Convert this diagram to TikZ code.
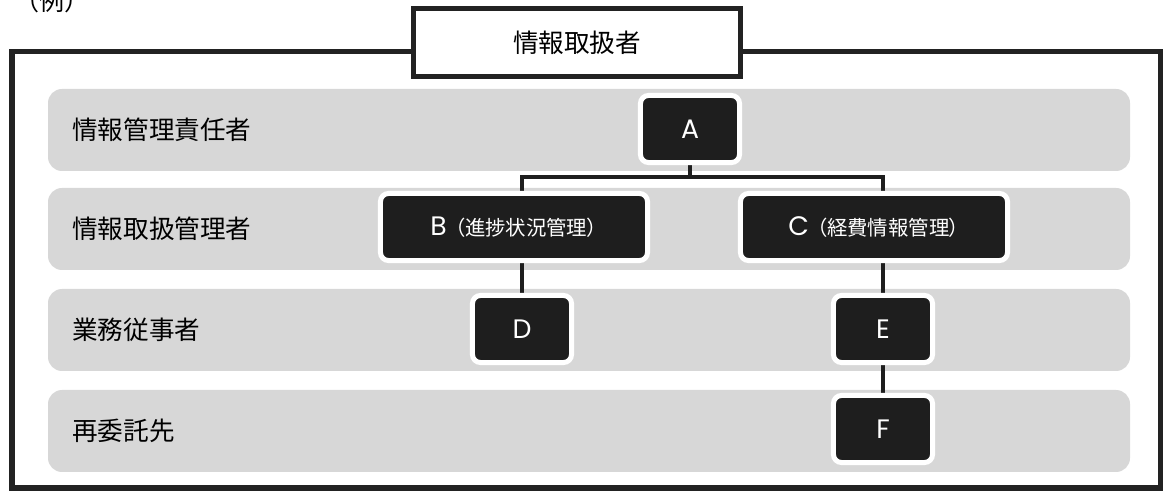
\documentclass[tikz,border=0pt]{standalone}
\usepackage{fontspec}
\setmainfont{Noto Sans CJK JP}
\newfontfamily\latinfont{Poppins}
\newfontfamily\tightjp[RawFeature=+palt]{Noto Sans CJK JP}
\definecolor{bandgray}{HTML}{D7D7D7}
\definecolor{boxblack}{HTML}{1E1E1E}
\definecolor{framegray}{HTML}{222222}
\pgfdeclarelayer{bands}
\pgfdeclarelayer{links}
\pgfsetlayers{bands,links,main}
\tikzset{
  band/.style={fill=bandgray, rounded corners=0.35cm},
  rolelabel/.style={anchor=west, inner sep=0pt, font=\fontsize{18.2}{20}\selectfont},
  person/.style={fill=boxblack, draw=white, line width=0.125cm, rounded corners=0.2cm,
    text=white, inner sep=0pt, minimum width=2.475cm, minimum height=1.675cm,
    font=\latinfont\fontsize{19}{22}\selectfont},
  link/.style={draw=boxblack, line width=0.11cm},
}
\newcommand{\dutyof}[1]{\hspace{0.3em}{\tightjp\fontsize{14.5}{16}\selectfont （#1）}}
\begin{document}
\begin{tikzpicture}[x=0.025cm, y=-0.025cm]
\useasboundingbox (0,0) rectangle (1166,491);
\node[font=\fontsize{17.8}{20}\selectfont] (example) at (52,1) {（例）};
% frame and title
\draw[framegray, line width=0.125cm] (12,52) rectangle (1160,488);
\node[draw=framegray, fill=white, line width=0.125cm, minimum width=8.15cm, minimum height=1.675cm,
  font=\fontsize{18.2}{20}\selectfont] (title) at (577,42.5) {情報取扱者};
% rows
\begin{pgfonlayer}{bands}
\foreach \top/\role [count=\i] in {89/情報管理責任者, 188/情報取扱管理者, 289/業務従事者, 390/再委託先}{
  \fill[band] (48,\top) rectangle (1130,\top+82);
  \node[rolelabel] (role\i) at (72,\top+41) {\role};
}
\end{pgfonlayer}
% boxes
\node[person] (A) at (690,129) {A};
\node[person, minimum width=6.675cm] (B) at (514,227) {B\dutyof{進捗状況管理}};
\node[person, minimum width=6.675cm] (C) at (874,227) {C\dutyof{経費情報管理}};
\node[person] (D) at (522,329) {D};
\node[person] (E) at (883,329) {E};
\node[person] (F) at (883,429) {F};
% links
\begin{pgfonlayer}{links}
\coordinate (fork) at (690,177);
\draw[link] (A) -- (fork);
\draw[link] (D |- B) |- (fork) -| (E |- C);
\draw[link] (D |- B) -- (D);
\draw[link] (E |- C) -- (E) -- (F);
\end{pgfonlayer}
\end{tikzpicture}
\end{document}
